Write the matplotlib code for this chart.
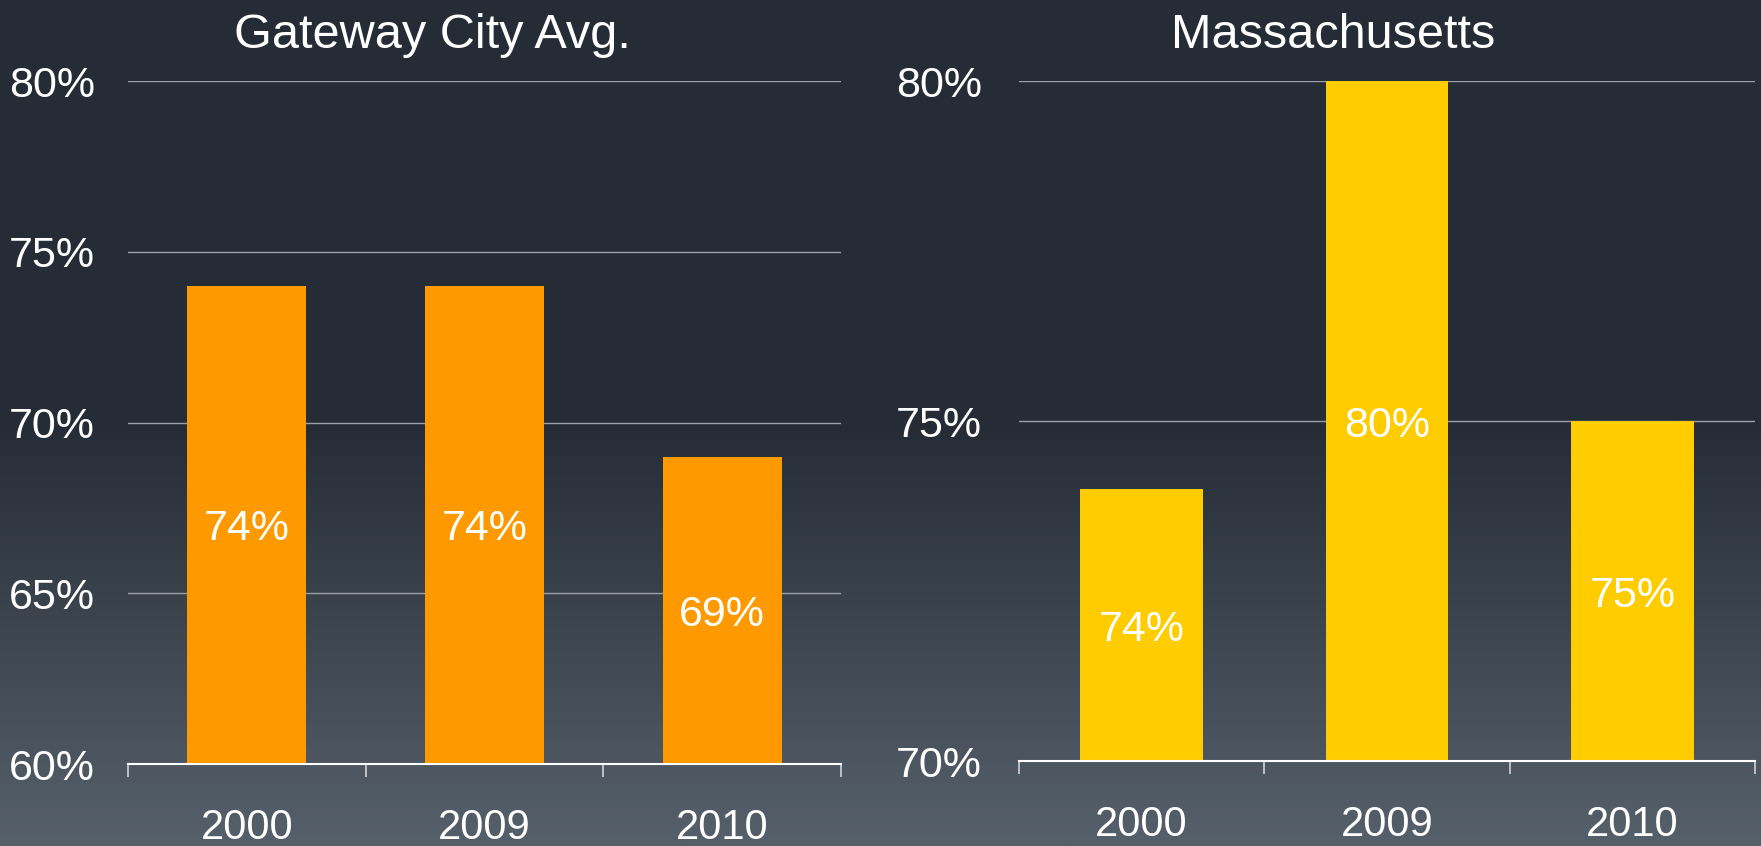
import matplotlib
matplotlib.use('Agg')
import matplotlib.pyplot as plt
import numpy as np
from matplotlib.colors import LinearSegmentedColormap

plt.rcParams['font.family'] = ['Liberation Sans', 'DejaVu Sans']

# data
years = ['2000', '2009', '2010']
gateway = [74, 74, 69]
mass = [74, 80, 75]
titles = ['Gateway City Avg.', 'Massachusetts']
gateway_ticks = [60, 65, 70, 75, 80]
mass_ticks = [70, 75, 80]

W, H = 1761, 846
fig = plt.figure(figsize=(W / 100, H / 100), dpi=100)

# background gradient: flat dark on top half, lighter towards the bottom
bg = fig.add_axes([0, 0, 1, 1], zorder=-10)
cmap = LinearSegmentedColormap.from_list('bg', [(0, '#252c35'), (0.51, '#262d36'), (1, '#56606b')])
grad = np.linspace(0, 1, 400).reshape(-1, 1)
bg.imshow(grad, aspect='auto', cmap=cmap, extent=[0, 1, 0, 1])
bg.axis('off')

# px -> points at dpi 100
pt = 0.72

panels = [
    (gateway, gateway_ticks, '#ff9900', [128 / W, 1 - 764 / H, 713 / W, 683 / H], 432, 33),
    (mass, mass_ticks, '#ffcc00', [1019 / W, 1 - 761 / H, 736 / W, 680 / H], 1333, 37),
]

for i, (vals, yt, col, rect, tx, ypad) in enumerate(panels):
    ax = fig.add_axes(rect)
    ax.set_facecolor('none')
    x = np.arange(len(years))
    ax.bar(x, [v - yt[0] for v in vals], bottom=yt[0], width=0.5, color=col, zorder=3)
    ax.set_ylim(yt[0], yt[-1])
    ax.set_xlim(-0.5, len(years) - 0.5)
    ax.set_yticks(yt)
    ax.set_yticklabels([f'{t}%' for t in yt], fontsize=31, color='white', va='center_baseline')
    ax.tick_params(axis='y', length=0, pad=ypad * pt)
    for t in yt[1:]:
        ax.axhline(t, color='#9aa0a7', lw=1, zorder=1)
    # ticks between categories, labels centered under bars
    ax.set_xticks(np.arange(-0.5, len(years), 1.0))
    ax.set_xticklabels([])
    ax.tick_params(axis='x', which='major', length=13 * pt, width=1.2, color='#d0d3d6', direction='out')
    ax.set_xticks(x, minor=True)
    ax.set_xticklabels(years, minor=True, fontsize=30, color='white')
    ax.tick_params(axis='x', which='minor', length=0, pad=44 * pt)
    for s in ['top', 'left', 'right']:
        ax.spines[s].set_visible(False)
    ax.spines['bottom'].set_color('white')
    ax.spines['bottom'].set_linewidth(1.5)
    ax.spines['bottom'].set_zorder(4)
    for xi, v in zip(x, vals):
        ax.text(xi, (yt[0] + v) / 2, f'{v}%', ha='center', va='center_baseline',
                fontsize=31, color='white', zorder=5)
    fig.text(tx / W, 1 - 36 / H, titles[i], ha='center', va='center',
             fontsize=35, color='white')

fig.savefig('out.png', dpi=100)
